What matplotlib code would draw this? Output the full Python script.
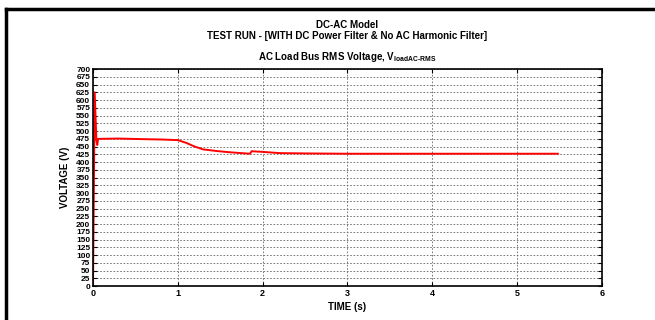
import numpy as np
import matplotlib.pyplot as plt
from matplotlib.lines import Line2D

plt.rcParams['font.family'] = ['Liberation Sans', 'DejaVu Sans']
plt.rcParams['font.weight'] = 'bold'
plt.rcParams['mathtext.fontset'] = 'custom'
plt.rcParams['mathtext.rm'] = 'Liberation Sans:bold'
plt.rcParams['mathtext.it'] = 'Liberation Sans:bold'

# RMS voltage at the AC load bus (time in s, voltage in V)
time_s = [0.0, 0.0, 0.02, 0.04, 0.05, 0.06, 0.3, 0.6, 0.8, 1.0, 1.1, 1.2, 1.3,
          1.45, 1.6, 1.75, 1.85, 1.87, 2.0, 2.2, 2.5, 3.0, 3.5, 4.0, 4.5, 5.0, 5.48]
v_rms = [0.0, 0.0, 625.0, 470.0, 455.0, 475.0, 476.0, 474.0, 473.0, 471.0, 462.0,
         450.0, 441.0, 436.0, 432.0, 429.0, 427.0, 435.0, 433.0, 429.0, 428.0,
         427.0, 427.0, 427.0, 427.0, 427.0, 427.0]

x_ticks = [0, 1, 2, 3, 4, 5, 6]
y_ticks = list(range(0, 701, 25))

fig = plt.figure(figsize=(6.55, 3.2), dpi=100)
ax = fig.add_axes([0.142, 0.106, 0.777, 0.678])

ax.plot(time_s, v_rms, color='#ff0000', lw=1.4)

ax.set_xlim(0, 6)
ax.set_ylim(0, 700)
ax.set_xticks(x_ticks)
ax.set_yticks(y_ticks)
ax.tick_params(direction='in', length=3, width=0.8, labelsize=6,
               top=True, right=True, pad=2)
ax.tick_params(axis='x', labelsize=6.5)
for lbl in ax.get_xticklabels() + ax.get_yticklabels():
    lbl.set_fontweight('bold')
ax.grid(True, color='#666666', ls=(0, (2, 2)), lw=0.6)
for sp in ax.spines.values():
    sp.set_linewidth(1.2)

ax.set_xlabel('TIME (s)', fontsize=7, fontweight='bold', labelpad=3)
ax.set_ylabel('VOLTAGE (V)', fontsize=7, fontweight='bold', labelpad=4)

cx = 0.142 + 0.777 / 2
fig.text(cx, 1 - 25 / 320, 'DC-AC Model', ha='center', va='center',
         fontsize=7, fontweight='bold')
fig.text(cx, 1 - 36 / 320,
         'TEST RUN - [WITH DC Power Filter & No AC Harmonic Filter]',
         ha='center', va='center', fontsize=7, fontweight='bold')
fig.text(cx, 1 - 57 / 320,
         r'AC Load Bus RMS Voltage, V$_{\mathrm{loadAC\text{-}RMS}}$',
         ha='center', va='center', fontsize=7, fontweight='bold')

# page frame: top and left edges
fig.add_artist(Line2D([6 / 655, 1.0], [1 - 9 / 320, 1 - 9 / 320],
                      transform=fig.transFigure, color='black', lw=2.5))
fig.add_artist(Line2D([6 / 655, 6 / 655], [0.0, 1 - 9 / 320],
                      transform=fig.transFigure, color='black', lw=2.5))

fig.savefig('out.png', dpi=100)
